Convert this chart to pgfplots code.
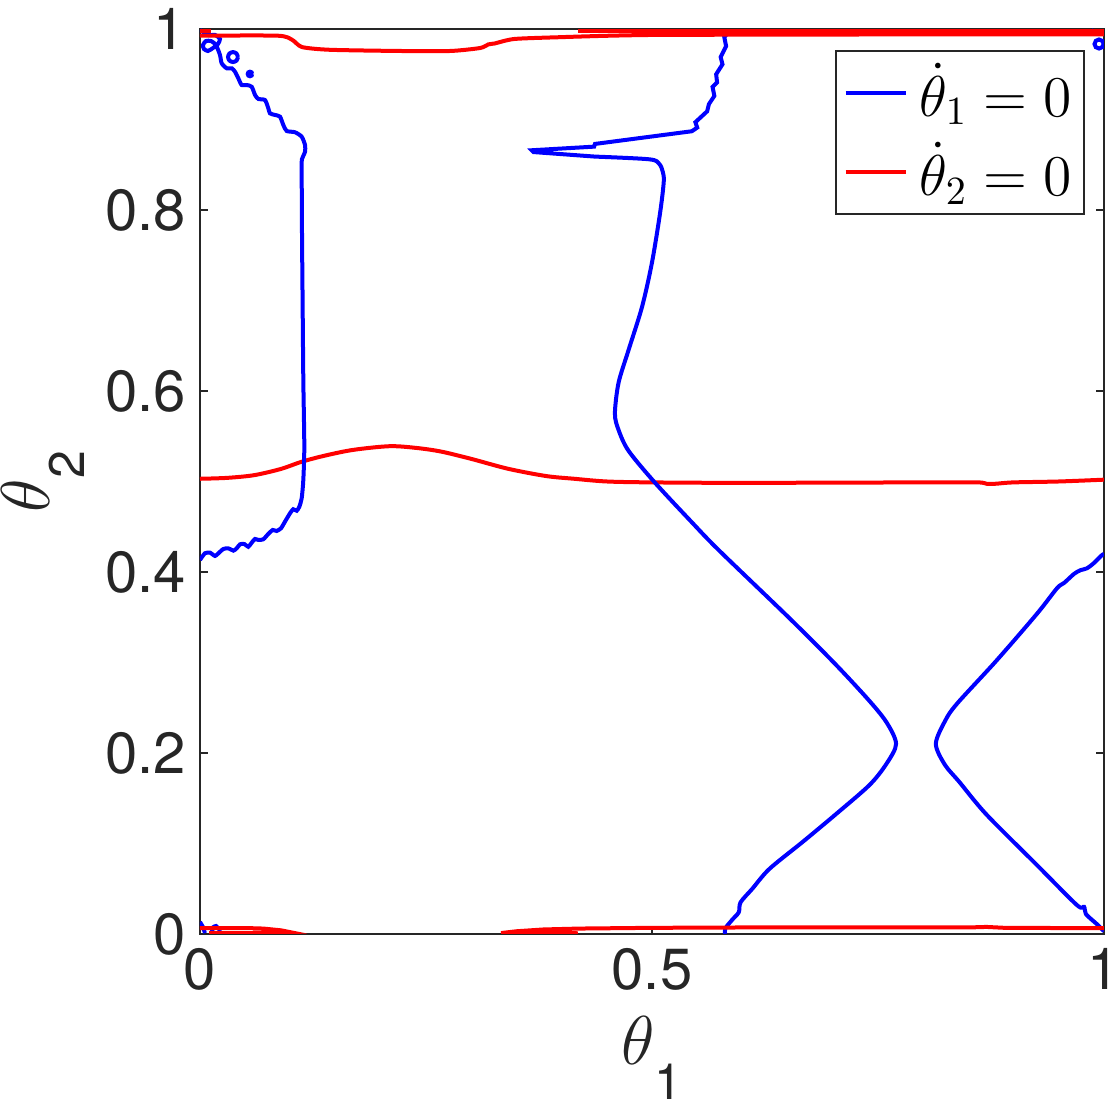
\documentclass[border=0pt]{standalone}
\usepackage{pgfplots}
\pgfplotsset{compat=1.18}
\usepackage[no-math]{fontspec}
\setmainfont{TeX Gyre Heros}
\definecolor{axgray}{rgb}{0.15,0.15,0.15}
\begin{document}
\begin{tikzpicture}
\begin{axis}[
  width=226pt, height=226.25pt, scale only axis,
  xmin=0, xmax=1, ymin=0, ymax=1,
  xtick={0,0.5,1}, ytick={0,0.2,0.4,0.6,0.8,1},
  axis line style={axgray, line width=0.5pt},
  tick style={axgray, line width=0.5pt},
  major tick length=2pt,
  ticklabel style={font=\fontsize{14.5}{17}\selectfont, text=axgray},
  /pgf/number format/assume math mode=true,
  xlabel={$\theta$\raisebox{-0.55em}{\fontsize{12.5}{14}\selectfont 1}},
  ylabel={$\theta$\raisebox{-0.55em}{\fontsize{12.5}{14}\selectfont 2}},
  label style={font=\fontsize{16}{19}\selectfont, text=axgray, inner sep=0pt},
  xlabel style={at={(axis description cs:0.5,-0.137)}, anchor=center},
  ylabel style={at={(axis description cs:-0.174,0.5)}, anchor=center},
  legend style={at={(0.979,0.977)}, anchor=north east, draw=axgray,
    line width=0.5pt, font=\fontsize{14.5}{17}\selectfont,
    inner xsep=2pt, inner ysep=1.5pt, row sep=2pt, column sep=2pt,
    nodes={inner xsep=1pt, inner ysep=1.5pt}},
  legend cell align=left,
  legend image code/.code={\draw[#1,line width=1pt] (0pt,0pt) -- (15pt,0pt);},
  every axis plot/.append style={line width=1pt},
]
% blue: middle curve, wavy top part
\addplot[blue] coordinates {
(0.586,0.998) (0.580,0.991) (0.582,0.981) (0.576,0.969) (0.578,0.961)
(0.571,0.950) (0.572,0.941) (0.567,0.936) (0.569,0.926) (0.563,0.917)
(0.561,0.909) (0.548,0.897) (0.550,0.891) (0.544,0.887) (0.437,0.873)
(0.436,0.870) (0.367,0.866) (0.369,0.864) (0.437,0.859)
};
\addlegendentry{$\dot{\theta}_1 = 0$}
% red: middle curve
\addplot[red, smooth, tension=0.5] coordinates {
(0,0.503) (0.03,0.504) (0.06,0.507) (0.09,0.514) (0.113,0.522) (0.14,0.529)
(0.17,0.535) (0.21,0.539) (0.24,0.537) (0.267,0.533) (0.30,0.525)
(0.341,0.514) (0.383,0.506) (0.414,0.503) (0.45,0.500) (0.50,0.499)
(0.60,0.4985) (0.80,0.499) (0.86,0.499) (0.87,0.4975) (0.88,0.4975)
(0.90,0.499) (0.95,0.500) (1.0,0.502)
};
\addlegendentry{$\dot{\theta}_2 = 0$}
% blue: middle curve, smooth lower part
\addplot[blue, smooth, tension=0.5, forget plot] coordinates {
(0.437,0.859) (0.497,0.856) (0.508,0.851)
(0.512,0.842) (0.513,0.831) (0.509,0.797) (0.500,0.742) (0.489,0.693)
(0.474,0.645) (0.463,0.609) (0.459,0.575) (0.463,0.557) (0.474,0.534)
(0.503,0.499) (0.544,0.455) (0.574,0.424) (0.652,0.349) (0.703,0.298)
(0.741,0.257) (0.760,0.233) (0.770,0.210) (0.760,0.189) (0.741,0.165)
(0.703,0.132) (0.667,0.102) (0.630,0.072) (0.611,0.050) (0.598,0.035)
(0.596,0.024) (0.589,0.016) (0.581,0.006) (0.581,0.0)
};
% blue: left curve
\addplot[blue, smooth, tension=0.4, forget plot] coordinates {
(0,0.999) (0.0088,0.9934) (0.0166,0.9934) (0.0221,0.989) (0.0199,0.9834)
(0.0144,0.9790) (0.0088,0.9757) (0.0044,0.9779) (0.0033,0.9823)
(0.0066,0.9867) (0.0122,0.9867) (0.0177,0.9823) (0.0221,0.9713)
(0.0240,0.9621) (0.0295,0.9566) (0.0351,0.9566) (0.0387,0.9528)
(0.0424,0.9455) (0.0461,0.9381) (0.0517,0.9381) (0.0572,0.9362)
(0.0609,0.9271) (0.0645,0.9227) (0.0719,0.9215) (0.0756,0.9123)
(0.0774,0.9068) (0.0830,0.9050) (0.0885,0.9031) (0.0922,0.8939)
(0.0959,0.8873) (0.1051,0.8859) (0.1125,0.8810) (0.1162,0.8718)
(0.1162,0.8644) (0.1132,0.8571) (0.1125,0.8497) (0.1128,0.78)
(0.1135,0.70) (0.1143,0.6122) (0.1154,0.5385) (0.1143,0.5017)
(0.1125,0.4815) (0.1099,0.4722) (0.1070,0.4677) (0.1032,0.4693)
(0.0996,0.4649) (0.0940,0.4556) (0.0896,0.4483) (0.0848,0.4453)
(0.0804,0.4464) (0.0755,0.4420) (0.0700,0.4361) (0.0645,0.4354)
(0.0608,0.4365) (0.0572,0.4324) (0.0534,0.4279) (0.0490,0.4309)
(0.0443,0.4306) (0.0406,0.4262) (0.0369,0.4236) (0.0313,0.4262)
(0.0258,0.4254) (0.0203,0.4206) (0.0166,0.4177) (0.0111,0.4213)
(0.0055,0.4207) (0,0.4133)
};
% blue: small loops
\addplot[blue, smooth, forget plot] coordinates {
(0.0420,0.969) (0.0404,0.9729) (0.0365,0.9745) (0.0326,0.9729) (0.0310,0.969)
(0.0326,0.9651) (0.0365,0.9635) (0.0404,0.9651) (0.0420,0.969)
};
\addplot[blue, smooth, forget plot] coordinates {
(0.0578,0.9503) (0.0571,0.9521) (0.0553,0.9528) (0.0535,0.9521) (0.0528,0.9503)
(0.0535,0.9485) (0.0553,0.9478) (0.0571,0.9485) (0.0578,0.9503)
};
\addplot[blue, smooth, forget plot] coordinates {
(0.9995,0.9834) (0.9980,0.9869) (0.9945,0.9884) (0.9910,0.9869) (0.9895,0.9834)
(0.9910,0.9799) (0.9945,0.9784) (0.9980,0.9799) (0.9995,0.9834)
};
\addplot[blue, forget plot] coordinates {
(0.986,0.999) (0.990,0.9955) (0.996,0.995) (1.0,0.997)
};
\addplot[blue, forget plot] coordinates {
(0,0.0133) (0.0033,0.0077) (0.0055,0.001)
};
\addplot[blue, smooth, forget plot] coordinates {
(0.0221,0.0044) (0.0190,0.0075) (0.0177,0.0088) (0.0146,0.0075) (0.0133,0.0044)
(0.0146,0.0013) (0.0177,0.0) (0.0208,0.0013) (0.0221,0.0044)
};
% blue: right curve
\addplot[blue, smooth, tension=0.5, forget plot] coordinates {
(1.0,0.420) (0.997,0.418) (0.989,0.410) (0.981,0.404) (0.974,0.402)
(0.967,0.398) (0.956,0.388) (0.948,0.382) (0.926,0.354) (0.881,0.302)
(0.837,0.254) (0.824,0.235) (0.814,0.210) (0.824,0.187) (0.840,0.168)
(0.870,0.132) (0.926,0.076) (0.970,0.032) (0.978,0.030) (0.980,0.022)
(0.992,0.011) (1.0,0.003)
};
% red: top lines
\addplot[red, smooth, tension=0.4, forget plot] coordinates {
(0,0.9926) (0.086,0.9926) (0.102,0.988) (0.113,0.980) (0.144,0.977)
(0.221,0.9757) (0.277,0.9757) (0.31,0.979) (0.319,0.983) (0.326,0.984)
(0.348,0.989) (0.40,0.991) (0.45,0.9925) (0.50,0.9934) (0.60,0.9937)
(0.80,0.994) (1.0,0.994)
};
\addplot[red, forget plot] coordinates {(0.418,0.998) (1.0,0.998)};
\addplot[red, forget plot] coordinates {(0,0.998) (0.012,0.998)};
% red: bottom lines
\addplot[red, forget plot] coordinates {
(0,0.0066) (0.05,0.0066) (0.07,0.006) (0.09,0.004) (0.10,0.002)
(0.08,0.0012) (0.04,0.001) (0.01,0.001)
};
\addplot[red, forget plot] coordinates {
(0.333,0.001) (0.35,0.003) (0.38,0.005) (0.42,0.006) (0.50,0.0068)
(0.60,0.0072) (0.85,0.0072) (0.87,0.0078) (0.89,0.0068) (1.0,0.0064)
};
\addplot[red, forget plot] coordinates {(0.333,0.001) (0.37,0.0013) (0.418,0.0008)};
\end{axis}
\pgfresetboundingbox
\useasboundingbox (-50pt,-42pt) rectangle (229.5pt,233.5pt);
\end{tikzpicture}
\end{document}
